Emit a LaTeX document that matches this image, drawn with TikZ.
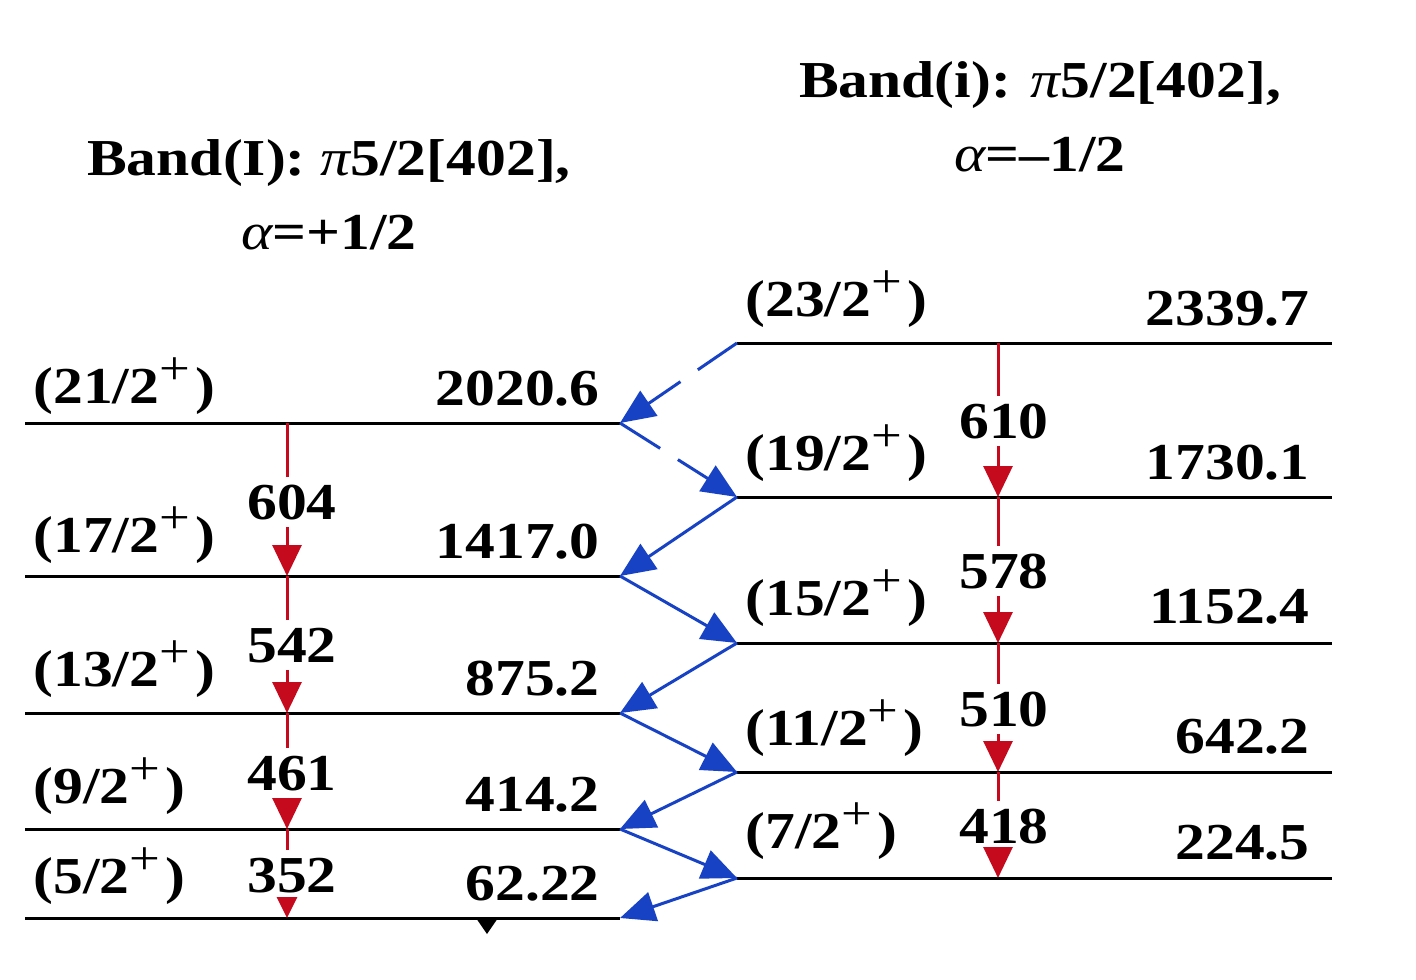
\documentclass[tikz,border=0pt]{standalone}
\usepackage{fontspec}
\setmainfont{Liberation Serif}[FakeStretch=1.15]
\usetikzlibrary{arrows.meta}
\definecolor{linkblue}{RGB}{24,66,196}
\definecolor{gamred}{RGB}{198,10,30}
\newcommand{\spinlbl}[1]{(#1/2\raisebox{10.5pt}{\fontsize{27}{27}\selectfont\mdseries +}\hspace{3pt})}
\tikzset{
  lvl/.style={line width=0.06cm},
  lbl/.style={font=\fontsize{29.5}{34}\selectfont\bfseries, inner sep=0pt},
  gamlbl/.style={lbl, inner ysep=4pt},
  gam/.style={gamred, line width=0.06cm},
  gamtip/.style={gam, -{Triangle[length=0.62cm,width=0.58cm]}},
  link/.style={linkblue, line width=0.06cm, -{Triangle[length=0.7cm,width=0.6cm]}},
  linkdash/.style={link, dash pattern=on 0.95cm off 0.42cm},
}
\begin{document}
\begin{tikzpicture}[x=0.02cm,y=-0.02cm]
  \useasboundingbox (0,0) rectangle (1416,980);
  % band titles
  \node[lbl, align=center] (bandI) at (329,195)
    {Band(I): {\mdseries\itshape π}5/2[402],\\[8pt]{\mdseries\itshape α}=+1/2};
  \node[lbl, align=center] (bandi) at (1040,117)
    {Band(i): {\mdseries\itshape π}5/2[402],\\[8pt]{\mdseries\itshape α}=\textendash1/2};
  % left band levels
  \foreach \j/\y/\E/\sb/\eb in {21/423/2020.6/403/405, 17/576/1417.0/552/558,
      13/713/875.2/686/695, 9/829/414.2/803/811, 5/918/62.22/893/900} {
    \draw[lvl] (25,\y) coordinate (s\j w) -- (620,\y) coordinate (s\j e);
    \path (287,\y) coordinate (s\j g);
    \node[lbl, anchor=base west] (j\j) at (33,\sb) {\spinlbl{\j}};
    \node[lbl, anchor=base east] (e\j) at (600,\eb) {\E};
  }
  % right band levels
  \foreach \j/\y/\E/\sb/\eb in {23/343/2339.7/316/325, 19/497/1730.1/470/479,
      15/643/1152.4/615/623, 11/772/642.2/745/753, 7/878/224.5/848/859} {
    \draw[lvl] (737,\y) coordinate (s\j w) -- (1332,\y) coordinate (s\j e);
    \path (998,\y) coordinate (s\j g);
    \node[lbl, anchor=base west] (j\j) at (745,\sb) {\spinlbl{\j}};
    \node[lbl, anchor=base east] (e\j) at (1310,\eb) {\E};
  }
  % gamma labels
  \node[gamlbl, anchor=base] (t604) at (292,519) {604};
  \node[gamlbl, anchor=base] (t542) at (292,662) {542};
  \node[gamlbl, anchor=base] (t461) at (292,790) {461};
  \node[gamlbl, anchor=base] (t352) at (292,892) {352};
  \node[gamlbl, anchor=base] (t610) at (1004,438) {610};
  \node[gamlbl, anchor=base] (t578) at (1004,588) {578};
  \node[gamlbl, anchor=base] (t510) at (1004,726) {510};
  \node[gamlbl, anchor=base] (t418) at (1004,843) {418};
  % in-band transitions
  \draw[gam] (s21g) -- (s21g |- t604.north);
  \draw[gamtip] (s21g |- t604.south) -- (s17g);
  \draw[gam] (s17g) -- (s17g |- t542.north);
  \draw[gamtip] (s17g |- t542.south) -- (s13g);
  \draw[gam] (s13g) -- (s13g |- t461.north);
  \draw[gamtip] (s13g |- t461.south) -- (s9g);
  \draw[gam] (s9g) -- (s9g |- t352.north);
  \draw[gam, -{Triangle[length=0.42cm,width=0.4cm]}] (s9g |- t352.south) -- (s5g);
  \draw[gam] (s23g) -- (s23g |- t610.north);
  \draw[gamtip] (s23g |- t610.south) -- (s19g);
  \draw[gam] (s19g) -- (s19g |- t578.north);
  \draw[gamtip] (s19g |- t578.south) -- (s15g);
  \draw[gam] (s15g) -- (s15g |- t510.north);
  \draw[gamtip] (s15g |- t510.south) -- (s11g);
  \draw[gam] (s11g) -- (s11g |- t418.north);
  \draw[gamtip] (s11g |- t418.south) -- (s7g);
  % inter-band transitions
  \draw[linkdash] (s23w) -- (s21e);
  \draw[linkdash] (s21e) -- (s19w);
  \draw[link] (s19w) -- (s17e);
  \draw[link] (s17e) -- (s15w);
  \draw[link] (s15w) -- (s13e);
  \draw[link] (s13e) -- (s11w);
  \draw[link] (s11w) -- (s9e);
  \draw[link] (s9e) -- (s7w);
  \draw[link] (s7w) -- (s5e);
  % small mark below ground level
  \fill (476,918) -- (498,918) -- (487,934) -- cycle;
\end{tikzpicture}
\end{document}
